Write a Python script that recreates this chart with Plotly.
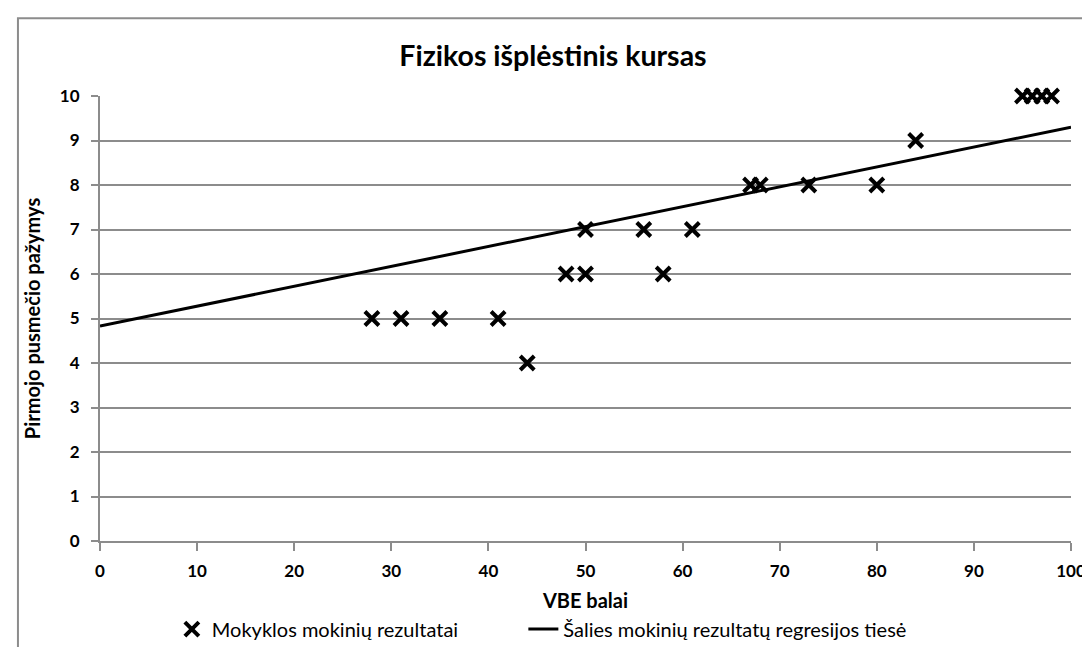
import plotly.graph_objects as go

# --- données ---
vbe_balai = [28, 31, 35, 41, 44, 48, 50, 50, 56, 58, 61, 67, 68, 73, 80, 84, 95, 96, 97, 98]
pazymys = [5, 5, 5, 5, 4, 6, 6, 7, 7, 6, 7, 8, 8, 8, 8, 9, 10, 10, 10, 10]

# droite de régression (extrémités)
regr_x = [0, 100]
regr_y = [4.83, 9.3]

font_fam = "Lato, 'Open Sans', sans-serif"
grid_col = "#8c8c8c"

fig = go.Figure()

fig.add_scatter(
    x=vbe_balai,
    y=pazymys,
    mode="markers",
    name="Mokyklos mokinių rezultatai",
    cliponaxis=False,  # sinon les points à 10 sont coupés
    legend="legend",
    marker=dict(symbol="x-thin", size=14, color="black",
                line=dict(color="black", width=4)),
)

fig.add_scatter(
    x=regr_x,
    y=regr_y,
    mode="lines",
    name="Šalies mokinių rezultatų regresijos tiesė",
    legend="legend2",
    line=dict(color="black", width=3),
)

# cadre autour du graphique
fig.add_shape(
    type="rect", xref="paper", yref="paper",
    x0=-0.0845, x1=1.2, y0=-0.6, y1=1.175,
    line=dict(color="#8c8c8c", width=2),
    fillcolor="rgba(0,0,0,0)",
)

fig.update_layout(
    width=1090,
    height=647,
    margin=dict(l=92, r=27, t=88, b=114, autoexpand=False),
    plot_bgcolor="white",
    paper_bgcolor="white",
    showlegend=True,
    font=dict(family=font_fam, color="black"),
    title=dict(
        text="<b>Fizikos išplėstinis kursas</b>",
        x=0.5, xanchor="center",
        y=0.926, yanchor="middle",
        font=dict(size=28.5, family=font_fam, color="black"),
    ),
    xaxis=dict(
        range=[0, 100],
        tickvals=list(range(0, 101, 10)),
        ticks="outside", ticklen=8, tickcolor=grid_col, tickwidth=2,
        ticklabelstandoff=6,
        showgrid=False,
        showline=True, linecolor=grid_col, linewidth=2,
        zeroline=False,
        automargin=False,
        tickfont=dict(size=17, family=font_fam, weight="bold"),
        title=dict(text="<b>VBE balai</b>", font=dict(size=20), standoff=14),
    ),
    yaxis=dict(
        range=[0, 10],
        tickvals=list(range(0, 11)),
        ticks="outside", ticklen=7, tickcolor=grid_col, tickwidth=2,
        ticklabelstandoff=8,
        showgrid=True, gridcolor=grid_col, gridwidth=2,
        showline=True, linecolor=grid_col, linewidth=2,
        zeroline=False,
        automargin=False,
        tickfont=dict(size=17, family=font_fam, weight="bold"),
        title=dict(text="<b>Pirmojo pusmečio pažymys</b>", font=dict(size=20), standoff=14),
    ),
    legend=dict(
        x=0.074, xanchor="left",
        y=-0.198, yanchor="middle",
        font=dict(size=20, family=font_fam),
        itemwidth=30,
        bgcolor="rgba(0,0,0,0)",
    ),
    legend2=dict(
        x=0.436, xanchor="left",
        y=-0.198, yanchor="middle",
        font=dict(size=20, family=font_fam),
        itemwidth=30,
        bgcolor="rgba(0,0,0,0)",
    ),
)

fig.write_html("out.html")
